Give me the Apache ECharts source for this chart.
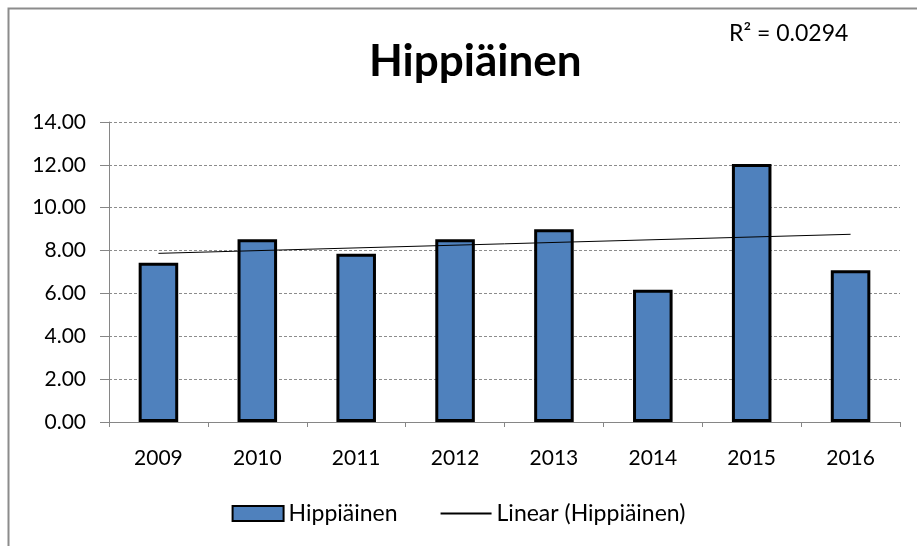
<!DOCTYPE html>
<html>
<head>
<meta charset="utf-8">
<script src="https://cdn.jsdelivr.net/npm/echarts@6/dist/echarts.min.js"></script>
<style>
  html, body { margin: 0; padding: 0; background: #fff; }
  #chart { width: 917px; height: 546px; }
</style>
</head>
<body>
<div id="chart"></div>
<script>
const years = ['2009', '2010', '2011', '2012', '2013', '2014', '2015', '2016']
const values = [7.43, 8.53, 7.85, 8.53, 8.99, 6.17, 12.04, 7.08]
// trend line end points (first and last year)
const trend = [7.87, null, null, null, null, null, null, 8.76]
const yTicks = { min: 0, max: 14, interval: 2 }
const rSquared = 'R² = 0.0294'

const font = 'Lato, "Open Sans", sans-serif'
const chart = echarts.init(document.getElementById('chart'))

chart.setOption({
  animation: false,
  title: [{
    text: 'Hippiäinen',
    left: 364,
    top: 35,
    textStyle: { fontFamily: font, fontSize: 44, fontWeight: 'bold', color: '#000' }
  }, {
    text: rSquared,
    left: 724,
    top: 17,
    textStyle: { fontFamily: font, fontSize: 23, fontWeight: 'normal', color: '#000' }
  }],
  graphic: [{
    type: 'rect',
    shape: { x: 8.5, y: 8.5, width: 920, height: 560 },
    style: { fill: 'none', stroke: '#8c8c8c', lineWidth: 2 },
    silent: true
  }],
  legend: {
    bottom: 16,
    left: 'center',
    itemWidth: 51,
    itemHeight: 15,
    itemGap: 42,
    textStyle: { fontFamily: font, fontSize: 23, color: '#000' },
    data: [
      { name: 'Hippiäinen', icon: 'rect' },
      { name: 'Linear (Hippiäinen)', itemStyle: { color: 'rgba(0,0,0,0)', opacity: 0, borderWidth: 0 } }
    ]
  },
  grid: { left: 109, right: 17, top: 122, bottom: 124 },
  xAxis: {
    type: 'category',
    data: years,
    axisLine: { lineStyle: { color: '#868686', width: 1 } },
    axisTick: { show: true, length: 5, lineStyle: { color: '#868686' } },
    axisLabel: { fontFamily: font, fontSize: 21, color: '#000', margin: 26 }
  },
  yAxis: {
    type: 'value',
    min: yTicks.min,
    max: yTicks.max,
    interval: yTicks.interval,
    axisLine: { show: true, lineStyle: { color: '#868686', width: 1 } },
    axisTick: { show: true, length: 9, lineStyle: { color: '#868686' } },
    axisLabel: {
      fontFamily: font,
      fontSize: 21,
      color: '#000',
      margin: 23,
      formatter: v => v.toFixed(2)
    },
    splitLine: { lineStyle: { color: '#8c8c8c', type: [3, 2], width: 1 } }
  },
  series: [{
    name: 'Hippiäinen',
    type: 'bar',
    data: values,
    barWidth: '40%',
    itemStyle: { color: '#4F81BD', borderColor: '#000', borderWidth: 3 }
  }, {
    name: 'Linear (Hippiäinen)',
    type: 'line',
    data: trend,
    connectNulls: true,
    symbol: 'none',
    lineStyle: { color: '#000', width: 1 },
    itemStyle: { color: '#000' },
    z: 3
  }]
})
</script>
</body>
</html>
